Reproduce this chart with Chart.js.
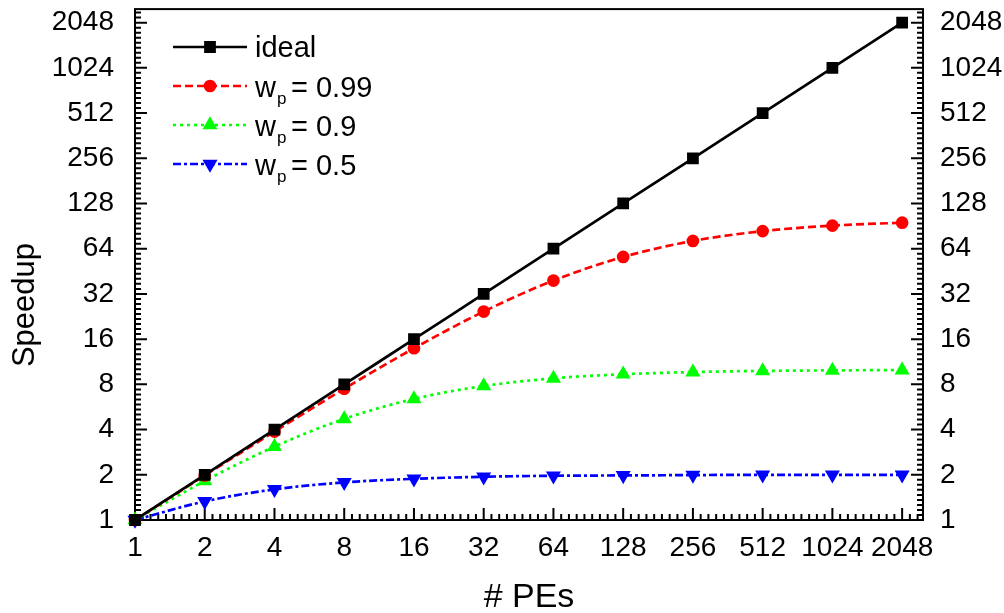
<!DOCTYPE html>
<html>
<head>
<meta charset="utf-8">
<script src="https://cdn.jsdelivr.net/npm/chart.js@4/dist/chart.umd.min.js"></script>
<style>
  html, body { margin: 0; background: #fff; }
</style>
</head>
<body>
<canvas id="speedup" width="1004" height="613"></canvas>
<script>
// number of processing elements
const pes = [1, 2, 4, 8, 16, 32, 64, 128, 256, 512, 1024, 2048];
// speedup series
const ideal = [1, 2, 4, 8, 16, 32, 64, 128, 256, 512, 1024, 2048];
const wp099 = [1, 1.98, 3.88, 7.48, 13.91, 24.43, 39.26, 56.39, 72.11, 83.8, 91.18, 95.39];
const wp09 = [1, 1.82, 3.08, 4.71, 6.4, 7.8, 8.77, 9.34, 9.66, 9.83, 9.91, 9.96];
const wp05 = [1, 1.33, 1.6, 1.78, 1.88, 1.94, 1.97, 1.98, 1.99, 2.0, 2.0, 2.0];
// axis ticks
const xTicks = [1, 2, 4, 8, 16, 32, 64, 128, 256, 512, 1024, 2048];
const yTicks = [1, 2, 4, 8, 16, 32, 64, 128, 256, 512, 1024, 2048];
const axisMax = 2520;
const legendNames = ["ideal", "0.99", "0.9", "0.5"];

const FONT = "'Liberation Sans', Arial, Helvetica, sans-serif";

const pts = arr => pes.map((p, i) => ({ x: p, y: arr[i] }));

const fixTicks = vals => scale => { scale.ticks = vals.map(v => ({ value: v })); };
const fixSize = (prop, size) => scale => {
  scale[prop] = size;
  scale.paddingTop = 0; scale.paddingBottom = 0;
  scale.paddingLeft = 0; scale.paddingRight = 0;
};

// minor ticks: 9 equal log-steps per octave
function minorTicks(max) {
  const out = [];
  for (let k = 0; Math.pow(2, k) < max; k++) {
    for (let j = 1; j < 9; j++) {
      const v = Math.pow(2, k + j / 9);
      if (v < max) out.push(v);
    }
  }
  return out;
}

const framePlugin = {
  id: "frame",
  beforeDatasetsDraw(chart) {
    const { ctx, chartArea: a, scales } = chart;
    ctx.save();
    ctx.strokeStyle = "#000";
    ctx.lineWidth = 2;
    ctx.beginPath();
    // bottom axis ticks
    xTicks.forEach(v => {
      const x = scales.x.getPixelForValue(v);
      ctx.moveTo(x, a.bottom); ctx.lineTo(x, a.bottom - 12);
    });
    minorTicks(axisMax).forEach(v => {
      const x = scales.x.getPixelForValue(v);
      ctx.moveTo(x, a.bottom); ctx.lineTo(x, a.bottom - 6);
    });
    // left & right axis ticks
    yTicks.forEach(v => {
      const y = scales.y.getPixelForValue(v);
      ctx.moveTo(a.left, y); ctx.lineTo(a.left + 12, y);
      ctx.moveTo(a.right, y); ctx.lineTo(a.right - 12, y);
    });
    minorTicks(axisMax).forEach(v => {
      const y = scales.y.getPixelForValue(v);
      ctx.moveTo(a.left, y); ctx.lineTo(a.left + 6, y);
      ctx.moveTo(a.right, y); ctx.lineTo(a.right - 6, y);
    });
    ctx.stroke();
    ctx.strokeRect(a.left, a.top, a.right - a.left, a.bottom - a.top);
    ctx.restore();
  },
  afterDraw(chart) {
    const { ctx, chartArea: a } = chart;
    ctx.save();
    ctx.fillStyle = "#000";
    // axis titles
    ctx.font = "34px " + FONT;
    ctx.textAlign = "center";
    ctx.textBaseline = "alphabetic";
    ctx.fillText("# PEs", (a.left + a.right) / 2, 607);
    ctx.save();
    ctx.translate(34, 305);
    ctx.rotate(-Math.PI / 2);
    ctx.font = "31px " + FONT;
    ctx.fillText("Speedup", 0, 0);
    ctx.restore();

    // legend
    const rows = [47, 86, 125, 164];
    chart.data.datasets.forEach((ds, i) => {
      const y = rows[i];
      ctx.save();
      ctx.strokeStyle = ds.borderColor;
      ctx.lineWidth = ds.borderWidth;
      ctx.setLineDash(ds.borderDash || []);
      ctx.beginPath();
      ctx.moveTo(173, y); ctx.lineTo(247, y);
      ctx.stroke();
      ctx.setLineDash([]);
      ctx.fillStyle = ds.pointBackgroundColor;
      ctx.strokeStyle = ds.pointBorderColor;
      Chart.helpers.drawPoint(ctx, {
        pointStyle: ds.pointStyle, radius: ds.pointRadius,
        rotation: ds.pointRotation || 0, borderWidth: 1
      }, 210, y);
      ctx.restore();

      ctx.textAlign = "left";
      ctx.textBaseline = "alphabetic";
      ctx.font = "29px " + FONT;
      if (i === 0) {
        ctx.fillText(legendNames[i], 255, y + 10);
      } else {
        ctx.fillText("w", 255, y + 11);
        ctx.font = "17px " + FONT;
        ctx.fillText("p", 277, y + 18);
        ctx.font = "29px " + FONT;
        ctx.fillText("= " + legendNames[i], 291, y + 11);
      }
    });
    ctx.restore();
  }
};

const tickFont = { family: FONT, size: 28 };

new Chart(document.getElementById("speedup"), {
  type: "line",
  data: {
    datasets: [
      {
        label: "ideal", data: pts(ideal),
        borderColor: "#000", backgroundColor: "#000", borderWidth: 2.7,
        pointStyle: "rect", pointRadius: 6.4,
        pointBackgroundColor: "#000", pointBorderColor: "#000"
      },
      {
        label: "wp = 0.99", data: pts(wp099),
        borderColor: "#ff0000", backgroundColor: "#ff0000", borderWidth: 2.7,
        borderDash: [8, 4],
        pointStyle: "circle", pointRadius: 5,
        pointBackgroundColor: "#ff0000", pointBorderColor: "#ff0000"
      },
      {
        label: "wp = 0.9", data: pts(wp09),
        borderColor: "#00ff00", backgroundColor: "#00ff00", borderWidth: 2.7,
        borderDash: [3, 4],
        pointStyle: "triangle", pointRadius: 6,
        pointBackgroundColor: "#00ff00", pointBorderColor: "#00ff00"
      },
      {
        label: "wp = 0.5", data: pts(wp05),
        borderColor: "#0000ff", backgroundColor: "#0000ff", borderWidth: 2.7,
        borderDash: [8, 3, 3, 3],
        pointStyle: "triangle", pointRotation: 180, pointRadius: 6,
        pointBackgroundColor: "#0000ff", pointBorderColor: "#0000ff"
      }
    ]
  },
  options: {
    responsive: false,
    animation: false,
    devicePixelRatio: 1,
    clip: false,
    layout: { padding: { top: 7, left: 0, right: 0, bottom: 0 } },
    plugins: { legend: { display: false }, tooltip: { enabled: false } },
    elements: { line: { cubicInterpolationMode: "monotone", tension: 0.4 }, point: { borderWidth: 1 } },
    scales: {
      x: {
        type: "logarithmic", min: 1, max: axisMax,
        grid: { display: false }, border: { display: false },
        afterBuildTicks: fixTicks(xTicks),
        afterFit: fixSize("height", 93),
        ticks: { font: tickFont, color: "#000", padding: 3, maxRotation: 0, autoSkip: false,
                 callback: v => String(v) }
      },
      y: {
        type: "logarithmic", position: "left", min: 1, max: axisMax,
        grid: { display: false }, border: { display: false },
        afterBuildTicks: fixTicks(yTicks),
        afterFit: fixSize("width", 135),
        ticks: { font: tickFont, color: "#000", padding: 13, autoSkip: false,
                 callback: v => String(v) }
      },
      y2: {
        type: "logarithmic", position: "right", min: 1, max: axisMax,
        grid: { display: false }, border: { display: false },
        afterBuildTicks: fixTicks(yTicks),
        afterFit: fixSize("width", 81),
        ticks: { font: tickFont, color: "#000", padding: 9, autoSkip: false,
                 callback: v => String(v) }
      }
    }
  },
  plugins: [framePlugin]
});
</script>
</body>
</html>
